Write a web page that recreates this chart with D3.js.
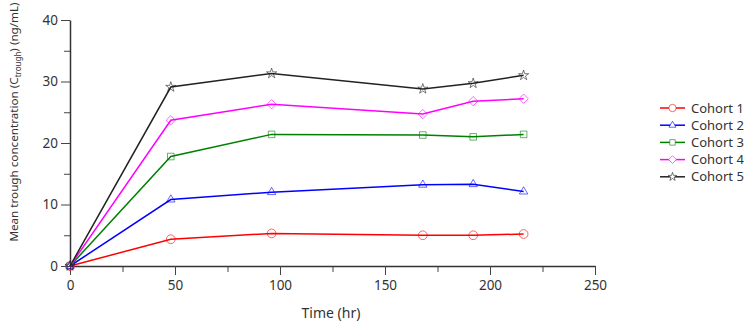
<!DOCTYPE html>
<html>
<head>
<meta charset="utf-8">
<script src="https://cdn.jsdelivr.net/npm/d3@7"></script>
<style>
  body { margin: 0; background: #fff; }
  text { font-family: "Noto Sans", "Open Sans", sans-serif; fill: #333; }
</style>
</head>
<body>
<div id="chart"></div>
<script>
// time points (hr)
var times = [0, 48, 96, 168, 192, 216];

// mean trough concentrations per cohort (ng/mL)
var cohort1 = [0, 4.35, 5.3, 5.0, 5.0, 5.2];
var cohort2 = [0, 10.8, 12.0, 13.2, 13.3, 12.1];
var cohort3 = [0, 17.8, 21.4, 21.3, 21.0, 21.4];
var cohort4 = [0, 23.7, 26.3, 24.7, 26.8, 27.2];
var cohort5 = [0, 29.1, 31.3, 28.8, 29.7, 31.0];

var seriesNames = ["Cohort 1", "Cohort 2", "Cohort 3", "Cohort 4", "Cohort 5"];
var xTicks = [0, 50, 100, 150, 200, 250];
var yTicks = [0, 10, 20, 30, 40];

var colors = ["#ff0000", "#0000ff", "#008000", "#ff00ff", "#222222"];
var shapes = [d3.symbolCircle, d3.symbolTriangle2, d3.symbolSquare2, d3.symbolDiamond2, d3.symbolStar];
var shapeSize = [60, 50, 55, 55, 32];

var series = [cohort1, cohort2, cohort3, cohort4, cohort5].map(function (vals, i) {
    return { name: seriesNames[i], values: vals.map((v, j) => ({ t: times[j], v: v })) };
});

var W = 751, H = 331;
var margin = { left: 70, top: 20, right: 156, bottom: 65 };
var w = W - margin.left - margin.right;
var h = H - margin.top - margin.bottom;

var svg = d3.select("#chart").append("svg")
    .attr("width", W)
    .attr("height", H);

var g = svg.append("g")
    .attr("transform", "translate(" + margin.left + "," + margin.top + ")");

/*
 * scales
 */
var x = d3.scaleLinear().domain([0, 250]).range([0, w]);
var y = d3.scaleLinear().domain([0, 40]).range([h, 0]);

/*
 * axes (minor ticks first, then major)
 */
function styleAxis(sel) {
    sel.select(".domain").attr("stroke", "#333").attr("stroke-width", 1.5);
    sel.selectAll(".tick line").attr("stroke", "#444");
    sel.selectAll(".tick text").attr("font-size", 13.5).attr("fill", "#444")
        .attr("font-family", "Noto Sans, Open Sans, sans-serif");
}

g.append("g")
    .attr("transform", "translate(0," + h + ")")
    .call(d3.axisBottom(x).tickValues(d3.range(25, 250, 50)).tickSize(6).tickFormat(""))
    .call(s => s.select(".domain").remove())
    .selectAll("line").attr("stroke", "#444");
g.append("g")
    .call(d3.axisLeft(y).tickValues(d3.range(5, 40, 10)).tickSize(6).tickFormat(""))
    .call(s => s.select(".domain").remove())
    .selectAll("line").attr("stroke", "#444");

g.append("g")
    .attr("transform", "translate(0," + h + ")")
    .call(d3.axisBottom(x).tickValues(xTicks).tickSize(9).tickPadding(5).tickSizeOuter(0))
    .call(styleAxis);

g.append("g")
    .call(d3.axisLeft(y).tickValues(yTicks).tickSize(9).tickPadding(3).tickSizeOuter(0))
    .call(styleAxis);

/*
 * lines and markers
 */
var line = d3.line().x(d => x(d.t)).y(d => y(d.v));

series.forEach(function (s, i) {
    g.append("path")
        .datum(s.values)
        .attr("fill", "none")
        .attr("stroke", colors[i])
        .attr("stroke-width", 1.5)
        .attr("d", line);
});

series.forEach(function (s, i) {
    g.selectAll(".m" + i)
        .data(s.values)
        .enter()
        .append("path")
        .attr("class", "m" + i)
        .attr("transform", d => "translate(" + x(d.t) + "," + y(d.v) + ")")
        .attr("d", d3.symbol().type(shapes[i]).size(shapeSize[i]))
        .attr("fill", "none")
        .attr("stroke", colors[i])
        .attr("stroke-opacity", 0.6)
        .attr("stroke-width", 1);
});

/*
 * axis titles
 */
svg.append("text")
    .attr("x", 331)
    .attr("y", 318)
    .attr("text-anchor", "middle")
    .attr("font-size", 14)
    .text("Time (hr)");

var yt = svg.append("text")
    .attr("transform", "translate(18,122) rotate(-90)")
    .attr("text-anchor", "middle")
    .attr("font-size", 13.5);
yt.append("tspan").text("Mean trough concentration (C");
yt.append("tspan").attr("font-size", 8).attr("dy", 3).text("trough");
yt.append("tspan").attr("dy", -3).text(") (ng/mL)");
// squeeze the title to the reference length if the font runs long
var len = yt.node().getComputedTextLength();
if (len > 236) yt.attr("font-size", 13.5 * 236 / len);

/*
 * legend
 */
var legend = svg.append("g").attr("transform", "translate(660,108)");
series.forEach(function (s, i) {
    var row = legend.append("g").attr("transform", "translate(0," + i * 17.2 + ")");
    row.append("line")
        .attr("x1", 0).attr("x2", 25)
        .attr("stroke", colors[i]).attr("stroke-width", 1.5);
    row.append("path")
        .attr("transform", "translate(12.5,0)")
        .attr("d", d3.symbol().type(shapes[i]).size(shapeSize[i] * 0.7))
        .attr("fill", "#fff")
        .attr("stroke", colors[i])
        .attr("stroke-opacity", 0.6);
    row.append("text")
        .attr("x", 31)
        .attr("y", 4.5)
        .attr("font-size", 13)
        .text(s.name);
});
</script>
</body>
</html>
